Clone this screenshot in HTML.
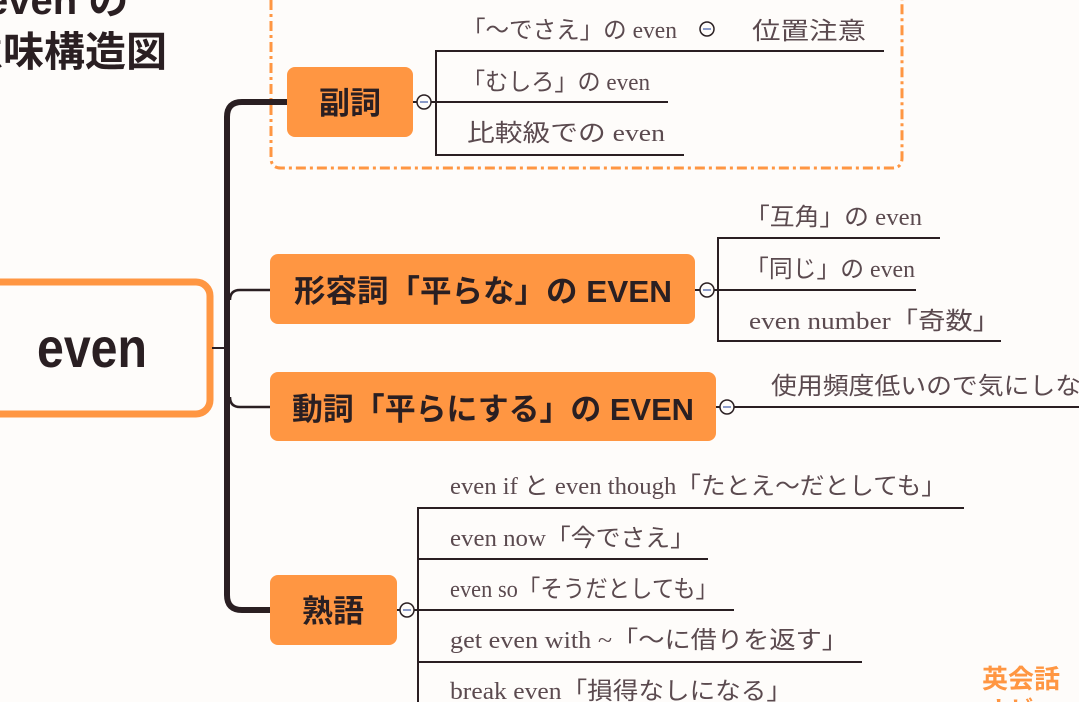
<!DOCTYPE html>
<html><head><meta charset="utf-8"><style>
html,body{margin:0;padding:0;background:#fefcfa;width:1079px;height:702px;overflow:hidden}
svg{display:block}
.b{font-family:"Liberation Sans","Noto Sans CJK JP",sans-serif;font-size:31px;font-weight:bold;fill:#2a1f22}
.l{font-family:"Liberation Serif","Noto Sans CJK JP",serif;font-size:24px;fill:#5b4a4f}
</style></head><body>
<svg width="1079" height="702" viewBox="0 0 1079 702">
<!-- title -->
<text x="-14" y="14" font-family="Liberation Sans,Noto Sans CJK JP,sans-serif" font-size="40" font-weight="bold" fill="#2a1f22">even の</text>
<text x="-38" y="66" font-family="Liberation Sans,Noto Sans CJK JP,sans-serif" font-size="41" font-weight="bold" fill="#2a1f22">意味構造図</text>
<!-- dashed group -->
<path d="M271 0 V158 Q271 168 281 168 H892 Q902 168 902 158 V0" fill="none" stroke="#ff9642" stroke-width="3" stroke-dasharray="10,4,3,4"/>
<!-- root -->
<rect x="-20" y="282" width="230" height="132" rx="14" fill="#fefcfa" stroke="#ff9642" stroke-width="7"/>
<text x="37" y="367" font-family="Liberation Sans,sans-serif" font-size="56" font-weight="bold" fill="#2a1f22" textLength="110" lengthAdjust="spacingAndGlyphs">even</text>
<!-- spine -->
<g fill="none" stroke="#2a1f22">
<line x1="212" y1="348" x2="227" y2="348" stroke-width="2"/>
<path d="M287 102 H242 Q227 102 227 117 V595 Q227 610 242 610 H270" stroke-width="6"/>
<path d="M270 290 H240 Q230 290 230 300" stroke-width="2.5"/>
<path d="M270 407 H240 Q230 407 230 397" stroke-width="2.5"/>
</g>
<!-- boxes -->
<rect x="287" y="67" width="126" height="70" rx="8" fill="#ff9642"/>
<text class="b" x="350" y="114" text-anchor="middle">副詞</text>
<rect x="270" y="254" width="425" height="70" rx="8" fill="#ff9642"/>
<text class="b" x="294" y="302" textLength="378" lengthAdjust="spacingAndGlyphs">形容詞「平らな」の EVEN</text>
<rect x="270" y="372" width="446" height="69" rx="8" fill="#ff9642"/>
<text class="b" x="292" y="420" textLength="402" lengthAdjust="spacingAndGlyphs">動詞「平らにする」の EVEN</text>
<rect x="270" y="575" width="127" height="70" rx="8" fill="#ff9642"/>
<text class="b" x="333" y="622" text-anchor="middle">熟語</text>
<!-- leaf lines -->
<g fill="none" stroke="#2a1f22" stroke-width="2">
<line x1="413" y1="102" x2="436" y2="102"/>
<path d="M884 51 H436 V155 H684"/><line x1="436" y1="102" x2="668" y2="102"/>
<line x1="695" y1="290" x2="718" y2="290"/>
<path d="M940 238 H718 V341 H1001"/><line x1="718" y1="290" x2="916" y2="290"/>
<line x1="716" y1="407" x2="1079" y2="407"/>
<line x1="397" y1="610" x2="418" y2="610"/>
<path d="M964 508 H418 V702"/>
<line x1="418" y1="559" x2="708" y2="559"/>
<line x1="418" y1="610" x2="734" y2="610"/>
<line x1="418" y1="662" x2="862" y2="662"/>
</g>
<!-- collapse circles -->
<g fill="#fefcfa" stroke="#2a1f22" stroke-width="1.5">
<circle cx="424" cy="102" r="7"/><circle cx="707" cy="29" r="7"/>
<circle cx="707" cy="290" r="7"/><circle cx="727" cy="407" r="7"/>
<circle cx="407" cy="610" r="7"/>
</g>
<g stroke="#8a9ac8" stroke-width="2">
<line x1="420" y1="102" x2="428" y2="102"/><line x1="703" y1="29" x2="711" y2="29"/>
<line x1="703" y1="290" x2="711" y2="290"/><line x1="723" y1="407" x2="731" y2="407"/>
<line x1="403" y1="610" x2="411" y2="610"/>
</g>
<!-- leaf texts -->
<text class="l" x="462" y="38" textLength="215" lengthAdjust="spacingAndGlyphs">「〜でさえ」の even</text>
<text class="l" x="752" y="39" textLength="114" lengthAdjust="spacingAndGlyphs">位置注意</text>
<text class="l" x="462" y="90" textLength="188" lengthAdjust="spacingAndGlyphs">「むしろ」の even</text>
<text class="l" x="467" y="141" textLength="198" lengthAdjust="spacingAndGlyphs">比較級での even</text>
<text class="l" x="745" y="225" textLength="177" lengthAdjust="spacingAndGlyphs">「互角」の even</text>
<text class="l" x="745" y="277" textLength="170" lengthAdjust="spacingAndGlyphs">「同じ」の even</text>
<text class="l" x="749" y="329" textLength="251" lengthAdjust="spacingAndGlyphs">even number「奇数」</text>
<text class="l" x="771" y="394" textLength="336" lengthAdjust="spacingAndGlyphs">使用頻度低いので気にしない</text>
<text class="l" x="450" y="494" textLength="496" lengthAdjust="spacingAndGlyphs">even if と even though「たとえ〜だとしても」</text>
<text class="l" x="450" y="546" textLength="245" lengthAdjust="spacingAndGlyphs">even now「今でさえ」</text>
<text class="l" x="450" y="597" textLength="268" lengthAdjust="spacingAndGlyphs">even so「そうだとしても」</text>
<text class="l" x="450" y="648" textLength="398" lengthAdjust="spacingAndGlyphs">get even with ~「〜に借りを返す」</text>
<text class="l" x="450" y="699" textLength="342" lengthAdjust="spacingAndGlyphs">break even「損得なしになる」</text>
<!-- brand -->
<text x="982" y="688" font-family="Liberation Sans,Noto Sans CJK JP,sans-serif" font-size="26" font-weight="bold" fill="#ff9642">英会話</text>
<text x="986" y="718" font-family="Liberation Sans,Noto Sans CJK JP,sans-serif" font-size="24" font-weight="bold" fill="#ff9642">ナビ</text>
</svg>
</body></html>
